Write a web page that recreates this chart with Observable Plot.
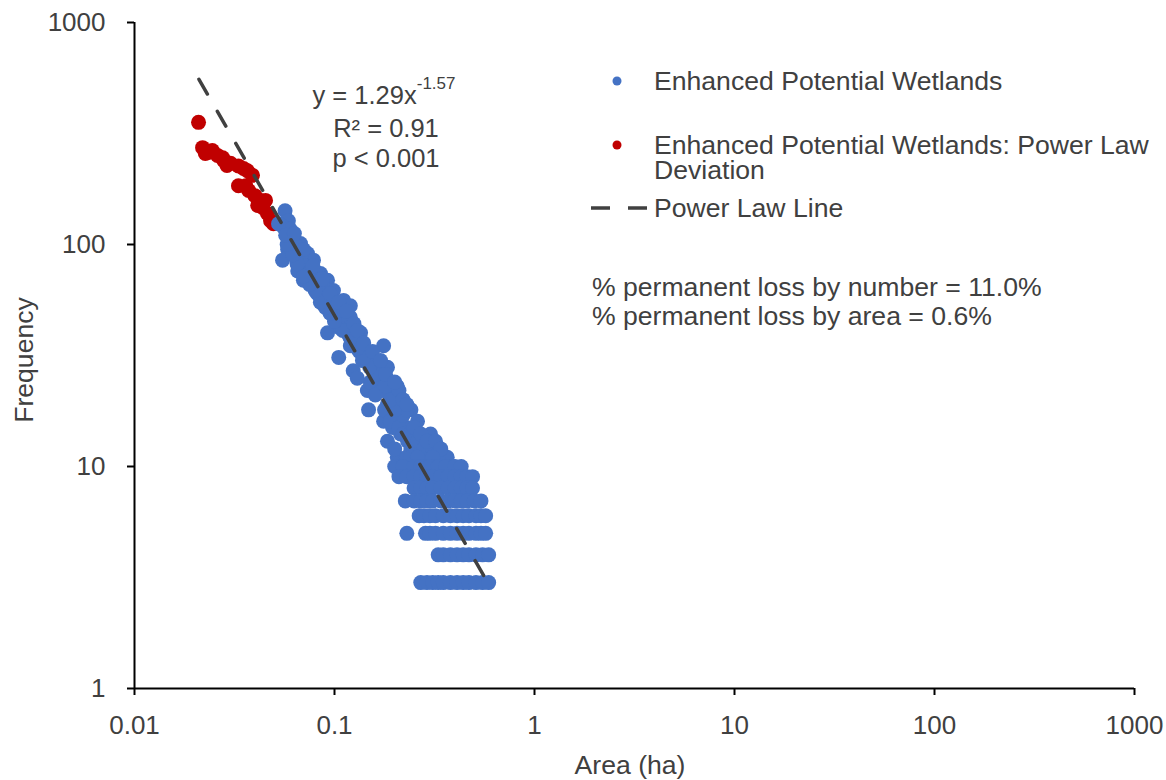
<!DOCTYPE html>
<html><head><meta charset="utf-8">
<script src="https://cdn.jsdelivr.net/npm/d3@7"></script>
<script src="https://cdn.jsdelivr.net/npm/@observablehq/plot@0.6"></script>
<style>body{margin:0;background:#fff;} #chart{width:1166px;height:780px;}</style>
</head><body><div id="chart"></div>
<script>
// Enhanced Potential Wetlands (blue): area (ha) and frequency
const blueArea = [
  0.0566,0.0588,0.0555,0.0617,0.0583,0.0550,0.0676,0.0733,0.0655,0.0785,0.0699,0.0851,0.0923,0.0822,0.0988,0.111,0.0881,0.120,0.0851,0.120,
  0.0923,0.135,0.176,0.105,0.146,0.124,0.184,0.164,0.206,0.146,0.130,0.151,0.191,0.148,0.184,0.241,0.176,0.260,0.184,0.302,
  0.232,0.331,0.206,0.278,0.366,0.291,0.380,
  0.0600,0.0640,0.0680,0.0720,0.0760,0.0770,0.0830,0.0900,0.0960,0.101,0.107,0.113,0.107,0.118,0.128,0.120,0.133,0.138,0.155,0.160,
  0.169,0.173,0.160,0.195,0.178,0.199,0.214,0.195,0.229,0.214,0.255,0.241,0.266,0.302,0.200,0.229,0.255,0.0525,
  0.19,0.21,0.22,0.24,0.26,0.28,0.31,0.33,0.35,0.22,0.21,0.23,0.25,0.27,0.29,0.32,0.34,0.24,0.26,0.28,
  0.31,0.39,0.20,0.19,0.21,0.17,0.18,0.16,0.15,0.14,0.13,0.12,0.11,0.10,0.095,0.090,0.085,0.080,0.075,0.070,
  0.065,0.062,0.058,0.057,0.063,0.070,0.078,0.087,0.095,0.105,0.115,0.125,0.130,0.140,0.155,0.170,0.180,0.200,0.220,0.230,
  // freq 10
  0.20,0.22,0.25,0.27,0.30,0.33,0.36,0.40,0.43,
  // freq 9
  0.21,0.23,0.25,0.27,0.29,0.31,0.34,0.37,0.40,0.43,0.46,0.49,
  // freq 8
  0.25,0.27,0.29,0.31,0.34,0.37,0.40,0.43,0.46,0.49,
  // freq 7
  0.226,0.25,0.27,0.29,0.31,0.34,0.37,0.40,0.43,0.46,0.50,0.54,
  // freq 6
  0.265,0.28,0.30,0.32,0.35,0.38,0.41,0.44,0.47,0.51,0.54,0.57,
  // freq 5
  0.23,0.285,0.30,0.32,0.35,0.38,0.41,0.44,0.47,0.51,0.54,0.57,
  // freq 4
  0.33,0.35,0.38,0.41,0.44,0.47,0.51,0.55,0.59,
  // freq 3
  0.27,0.29,0.31,0.33,0.35,0.38,0.41,0.44,0.47,0.51,0.55,0.59
];
const blueFreq = [
  142,128,120,108,95,85,101,91,76,85,69,74,69,60,62,56,54,53,58,47,
  40,40,35,31,32,27,28,24,23,22,25,24,24,18,19,18,16,16,13,14,
  13,12,11,11,11,10,9,
  117,99,89,80,76,69,65,61,56,50,48,44,42,39,37,35,33,30,30,28,
  27,22,21,21,18,17,20,15,15,14,13,12,12,12,12,11,10,124,
  16,15,14,14,13,12,12,11,10,17,19,18,15,14,13,13,12,11,11,10,
  11,10,18,20,22,25,23,26,28,31,34,38,41,45,49,52,55,62,66,72,
  82,90,100,110,112,95,80,70,60,55,50,44,41,36,33,30,26,24,20,19,
  10,10,10,10,10,10,10,10,10,
  9,9,9,9,9,9,9,9,9,9,9,9,
  8,8,8,8,8,8,8,8,8,8,
  7,7,7,7,7,7,7,7,7,7,7,7,
  6,6,6,6,6,6,6,6,6,6,6,6,
  5,5,5,5,5,5,5,5,5,5,5,5,
  4,4,4,4,4,4,4,4,4,
  3,3,3,3,3,3,3,3,3,3,3,3
];
// Power law deviation (red)
const redArea = [0.0209,0.0219,0.0226,0.0245,0.0260,0.0279,0.0302,0.0331,0.0367,0.0389,0.0331,0.0372,0.0426,0.0437,0.0462,0.0479,0.0495,0.0234,0.0276,0.0290,0.0351,0.0360,0.0400,0.0413,0.0452];
const redFreq = [355,273,257,265,252,239,232,226,215,205,184,175,158,147,138,128,124,260,246,227,220,184,166,150,158];
// Power law line endpoints (y = 1.29x^-1.57)
const fitArea = [0.021, 0.6];
const fitFreq = [555, 2.87];
const xTicks = [0.01, 0.1, 1, 10, 100, 1000];
const yTicks = [1, 10, 100, 1000];
const legendLabels = ["Enhanced Potential Wetlands", "Enhanced Potential Wetlands: Power Law", "Deviation", "Power Law Line"];
const noteLines = ["% permanent loss by number = 11.0%", "% permanent loss by area = 0.6%"];
const eqLines = ["y = 1.29x", "-1.57", "R² = 0.91", "p < 0.001"];
const xLabel = "Area (ha)";
const yLabel = "Frequency";

const BLUE = "#4472C4", RED = "#C00000", TXT = "#404040";
const FONT = "Liberation Sans, Arial, Helvetica, sans-serif";

const blue = blueArea.map((a, i) => ({area: a, freq: blueFreq[i]}));
const red = redArea.map((a, i) => ({area: a, freq: redFreq[i]}));
const fit = fitArea.map((a, i) => ({area: a, freq: fitFreq[i]}));

const plot = Plot.plot({
  width: 1166, height: 780,
  marginLeft: 134, marginRight: 32, marginTop: 22, marginBottom: 92,
  style: {fontFamily: FONT, fontSize: "26px", color: TXT, background: "#fff", overflow: "visible"},
  x: {type: "log", domain: [0.01, 1000]},
  y: {type: "log", domain: [1, 1000]},
  marks: [
    Plot.dot(red, {x: "area", y: "freq", r: 7.5, fill: RED}),
    Plot.dot(blue, {x: "area", y: "freq", r: 7.5, fill: BLUE}),
    Plot.line(fit, {x: "area", y: "freq", stroke: "#404040", strokeWidth: 3.5, strokeDasharray: "17,20"}),
    Plot.axisX({ticks: xTicks, tickFormat: d => String(d), tickSize: 7, tickPadding: 20, color: TXT, stroke: "#000", strokeWidth: 2, label: null}),
    Plot.axisY({ticks: yTicks, tickFormat: d => String(d), tickSize: 7, tickPadding: 22, color: TXT, stroke: "#000", strokeWidth: 2, label: null}),
    Plot.ruleX([0.01], {stroke: "#000", strokeWidth: 2}),
    Plot.ruleY([1], {stroke: "#000", strokeWidth: 2})
  ]
});
document.getElementById("chart").appendChild(plot);

const svg = d3.select(plot);
const t = (x, y, s, opts = {}) => svg.append("text").attr("x", x).attr("y", y).text(s)
  .attr("fill", TXT).attr("font-family", FONT).attr("font-size", opts.size || 26.6)
  .attr("text-anchor", opts.anchor || "start");

// axis titles
t(630, 774, xLabel, {anchor: "middle"});
svg.append("text").attr("transform", "translate(33,360) rotate(-90)").attr("text-anchor", "middle")
  .attr("fill", TXT).attr("font-family", FONT).attr("font-size", 26.6).text(yLabel);

// equation
const eq = svg.append("text").attr("x", 384).attr("y", 104).attr("text-anchor", "middle")
  .attr("fill", TXT).attr("font-family", FONT).attr("font-size", 25.5);
eq.append("tspan").text(eqLines[0]);
eq.append("tspan").attr("dy", -15).attr("font-size", 17).text(eqLines[1]);
t(386, 137, eqLines[2], {anchor: "middle", size: 25.5});
t(386, 167, eqLines[3], {anchor: "middle", size: 25.5});

// legend
svg.append("circle").attr("cx", 617).attr("cy", 81).attr("r", 4.5).attr("fill", BLUE);
t(654, 90, legendLabels[0]);
svg.append("circle").attr("cx", 617).attr("cy", 145).attr("r", 4.5).attr("fill", RED);
t(654, 154, legendLabels[1]);
t(654, 179, legendLabels[2]);
svg.append("line").attr("x1", 591).attr("x2", 648).attr("y1", 208).attr("y2", 208)
  .attr("stroke", "#404040").attr("stroke-width", 3.5).attr("stroke-dasharray", "19,18");
t(654, 217, legendLabels[3]);
t(592, 296, noteLines[0]);
t(592, 325, noteLines[1]);
</script>
</body></html>
